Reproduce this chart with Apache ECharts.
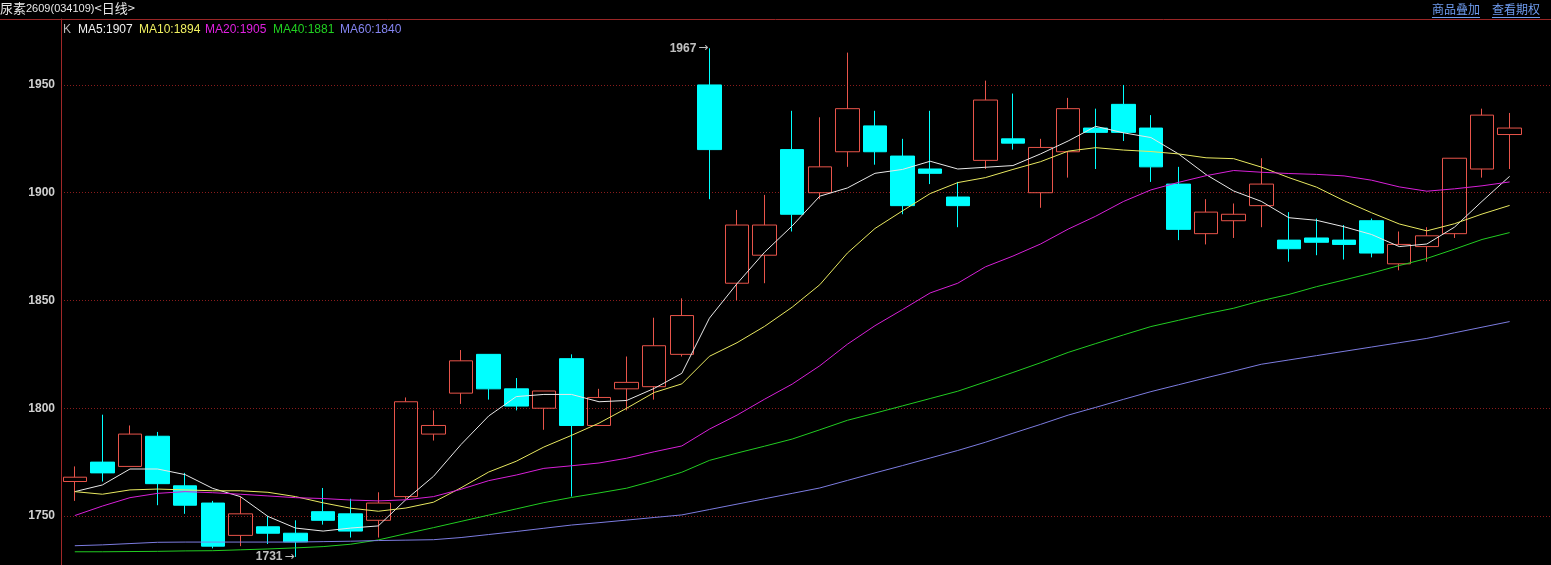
<!DOCTYPE html>
<html><head><meta charset="utf-8">
<script src="https://cdn.jsdelivr.net/npm/echarts@6/dist/echarts.min.js"></script>
<style>html,body{margin:0;padding:0;background:#000;overflow:hidden}#c{width:1551px;height:565px}</style>
</head><body><div id="c"></div>
<script>
// ---- data ----
const categories = ['1','2','3','4','5','6','7','8','9','10','11','12','13','14','15','16','17','18','19','20','21','22','23','24','25','26','27','28','29','30','31','32','33','34','35','36','37','38','39','40','41','42','43','44','45','46','47','48','49','50','51','52','53',''];
const opens  = [1766,1775,1773,1787,1764,1756,1741,1745,1742,1752,1751,1748,1759,1788,1807,1825,1809,1800,1823,1792,1809,1810,1825,1950,1858,1871,1920,1900,1919,1931,1917,1911,1898,1915,1925,1900,1919,1930,1941,1930,1904,1881,1887,1894,1878,1879,1878,1887,1867,1875,1881,1911,1927];
const closes = [1768,1770,1788,1765,1755,1736,1751,1742,1738,1748,1743,1756,1803,1792,1822,1809,1801,1808,1792,1805,1812,1829,1843,1920,1885,1885,1890,1912,1939,1919,1894,1909,1894,1943,1923,1921,1939,1928,1928,1912,1883,1891,1890,1904,1874,1877,1876,1872,1876,1880,1916,1936,1930];
const lows   = [1757,1766,1773,1755,1751,1735,1736,1737,1731,1746,1740,1740,1758,1785,1802,1804,1799,1790,1759,1792,1799,1804,1824,1897,1850,1858,1882,1897,1912,1913,1890,1904,1884,1911,1920,1893,1907,1911,1924,1905,1878,1876,1879,1884,1868,1871,1869,1870,1864,1868,1879,1907,1911];
const highs  = [1773,1797,1792,1789,1770,1757,1759,1750,1748,1763,1758,1761,1805,1799,1827,1825,1814,1808,1825,1809,1824,1842,1851,1967,1892,1899,1938,1935,1965,1938,1925,1938,1905,1952,1946,1925,1944,1939,1950,1936,1912,1897,1895,1916,1891,1888,1885,1888,1882,1884,1916,1939,1937];
const ma5  = [1761.3,1764.4,1771.8,1771.8,1769.2,1762.8,1759.0,1749.8,1744.4,1743.0,1744.4,1745.4,1757.6,1768.4,1783.2,1796.4,1805.4,1806.4,1806.4,1803.0,1803.6,1809.2,1816.2,1841.8,1857.8,1872.4,1884.6,1898.4,1902.2,1909.0,1910.8,1914.6,1911.0,1911.8,1912.6,1918.0,1924.0,1930.8,1927.8,1925.6,1918.0,1908.4,1900.8,1896.0,1888.4,1887.2,1884.2,1880.6,1875.0,1876.2,1884.0,1896.0,1907.6];
const ma10 = [1761.3,1760.1,1762.1,1762.5,1762.1,1761.7,1761.7,1761.0,1759.0,1756.1,1753.6,1752.2,1753.7,1756.4,1763.1,1770.4,1775.4,1782.0,1787.4,1793.1,1800.0,1807.3,1811.3,1824.1,1830.4,1838.0,1846.9,1857.3,1872.0,1883.4,1891.6,1899.6,1904.7,1907.0,1910.8,1914.4,1919.3,1920.9,1919.8,1919.1,1918.0,1916.2,1915.8,1911.9,1907.0,1902.6,1896.3,1890.7,1885.5,1882.3,1885.6,1890.1,1894.1];
const ma20 = [1750.2,1754.6,1758.5,1760.5,1761.3,1760.8,1760.1,1759.3,1758.5,1758.1,1757.4,1757.0,1757.5,1759.0,1762.4,1766.4,1769.0,1772.1,1773.3,1774.6,1776.8,1779.8,1782.5,1790.3,1796.8,1804.2,1811.2,1819.7,1829.7,1838.3,1845.8,1853.5,1858.0,1865.6,1870.6,1876.2,1883.1,1889.1,1895.9,1901.3,1904.8,1907.9,1910.3,1909.5,1908.9,1908.5,1907.8,1905.8,1902.7,1900.7,1901.8,1903.2,1905.0];
const ma40 = [1733.4,1733.4,1733.5,1733.6,1733.8,1733.9,1734.3,1734.7,1735.2,1735.8,1736.9,1738.9,1741.8,1744.6,1747.5,1750.4,1753.3,1756.2,1758.6,1760.7,1762.9,1766.4,1770.3,1775.8,1779.2,1782.4,1785.7,1790.0,1794.4,1797.7,1801.1,1804.5,1807.9,1812.2,1816.6,1821.1,1825.9,1830.0,1834.0,1837.9,1840.8,1843.8,1846.4,1849.9,1852.8,1856.4,1859.5,1862.7,1866.2,1869.5,1873.8,1878.3,1881.5];
const ma60 = [1736.2,1736.6,1737.2,1737.8,1737.9,1737.9,1737.9,1737.9,1737.9,1738.1,1738.3,1738.6,1738.8,1739.0,1740.0,1741.4,1742.8,1744.3,1745.8,1746.9,1748.1,1749.3,1750.5,1753.0,1755.5,1758.0,1760.5,1763.0,1766.5,1770.0,1773.4,1776.9,1780.4,1784.2,1788.4,1792.5,1796.8,1800.4,1804.1,1807.7,1810.9,1814.1,1817.2,1820.4,1822.4,1824.4,1826.4,1828.4,1830.4,1832.4,1835.0,1837.6,1840.2];
const maNames = ['MA5','MA10','MA20','MA40','MA60'];
const maLegendValues = [1907,1894,1905,1881,1840];
const yTickValues = [1750,1800,1850,1900,1950];
const titleParts = ['尿素','2609(034109)','<日线>'];
const linkTexts = ['商品叠加','查看期权'];
const extremes = [{index: 23, value: 1967}, {index: 8, value: 1731}];

// ---- styles ----
const UP = '#e8544a', DOWN = '#00ffff';
const maColors = ['#f0f0f0','#f0f060','#e020e0','#20d020','#8484f0'];
const maLineColors = ['#e8e8e8','#e8e860','#d820d8','#22cc22','#7c7ce0'];
const legendX = [78, 139, 205, 273, 340];

const chart = echarts.init(document.getElementById('c'), null, {renderer: 'canvas'});
const kData = opens.map((o, i) => [o, closes[i], lows[i], highs[i]]);
const maSeries = [ma5, ma10, ma20, ma40, ma60].map((d, k) => ({
  name: maNames[k], type: 'line', data: d, showSymbol: false, symbol: 'none',
  lineStyle: {width: 1, color: maLineColors[k]}, z: 3, silent: true
}));

const graphic = [
  {type: 'line', shape: {x1: 0, y1: 19.5, x2: 1551, y2: 19.5}, style: {stroke: '#9a2626', lineWidth: 1}, z: 10},
  {type: 'text', x: 0, y: 2, style: {
    text: '{a|' + titleParts[0] + '}{b|' + titleParts[1] + '}{a|' + titleParts[2] + '}',
    rich: {a: {fontSize: 13, fontFamily: 'Noto Sans CJK SC', fill: '#e8e8e8', color: '#e8e8e8'},
           b: {fontSize: 11, fontFamily: 'Liberation Sans Narrow, Liberation Sans', fill: '#e8e8e8', color: '#e8e8e8'}},
    fill: '#e8e8e8'}, z: 10},
  {type: 'text', x: 63, y: 24, style: {text: 'K', fontSize: 12, fontFamily: 'Liberation Sans', fill: '#b8b8b8'}, z: 10}
];
linkTexts.forEach((t, k) => {
  const x0 = 1432 + k * 60;
  graphic.push({type: 'text', x: x0, y: 3, style: {text: t, fontSize: 12, fontFamily: 'Noto Sans CJK SC', fill: '#6f9cf0'}, z: 10});
  graphic.push({type: 'line', shape: {x1: x0, y1: 17.5, x2: x0 + 48, y2: 17.5}, style: {stroke: '#6f9cf0', lineWidth: 1}, z: 10});
});
maNames.forEach((n, k) => {
  graphic.push({type: 'text', x: legendX[k], y: 24, style: {text: n + ':' + maLegendValues[k], fontSize: 12, fontFamily: 'Liberation Sans', fill: maColors[k]}, z: 10});
});

chart.setOption({
  animation: false,
  backgroundColor: '#000',
  grid: {left: 61, top: 19, width: 1512, height: 546},
  xAxis: {type: 'category', data: categories, boundaryGap: true,
    axisLine: {show: false}, axisTick: {show: false}, axisLabel: {show: false}, splitLine: {show: false}},
  yAxis: {type: 'value', min: 1727.26, max: 1980.6, splitNumber: 5,
    axisLine: {show: true, lineStyle: {color: '#a02828', width: 1}},
    axisTick: {show: false},
    axisLabel: {color: '#d0d0d0', fontSize: 12, fontWeight: 'bold', fontFamily: 'Liberation Sans', margin: 6,
      showMinLabel: false, showMaxLabel: false,
      formatter: v => (yTickValues.indexOf(v) >= 0 ? String(v) : '')},
    splitLine: {show: true, showMinLine: false, showMaxLine: false, lineStyle: {type: [1, 2], color: '#8a1c1c', width: 1}}},
  graphic: graphic,
  series: [
    {type: 'candlestick', data: kData, barWidth: 24, z: 2, silent: true,
      itemStyle: {color: 'rgba(0,0,0,0)', color0: DOWN, borderColor: UP, borderColor0: DOWN, borderWidth: 1}},
    ...maSeries,
    {type: 'scatter', data: extremes.map(e => [e.index, e.value]), symbol: 'circle', symbolSize: 2, silent: true, z: 5,
      itemStyle: {color: 'rgba(0,0,0,0)'},
      label: {show: true, position: 'left', distance: 0,
        formatter: p => '{n|' + p.value[1] + '}{r|→}',
        rich: {n: {color: '#f0f0f0', fontSize: 12, fontWeight: 'bold', fontFamily: 'Liberation Sans'},
               r: {color: '#f0f0f0', fontSize: 12, fontFamily: 'DejaVu Sans', padding: [0, 0, 0, 2]}}}}
  ]
});
</script></body></html>
